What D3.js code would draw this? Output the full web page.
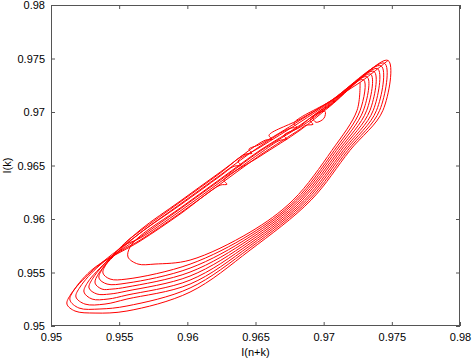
<!DOCTYPE html>
<meta charset="utf-8">
<style>
  body { margin: 0; background: #fff; }
  #chart svg { display: block; }
  .tick text { font-family: "Liberation Sans", Arial, sans-serif; font-size: 11px; fill: #000; }
  .tick line { stroke: #555; }
  .lbl { font-family: "Liberation Sans", Arial, sans-serif; font-size: 11px; fill: #000; }
</style>
<body>
<div id="chart"></div>
<script src="https://d3js.org/d3.v7.min.js"></script>
<script>
  // tick labels
  const xTicks = [0.95, 0.955, 0.96, 0.965, 0.97, 0.975, 0.98]
  const yTicks = [0.95, 0.955, 0.96, 0.965, 0.97, 0.975, 0.98]

  // trajectory, one array per turn of the orbit [I(n+k), I(k)]
  const loop0 = [[0.97267,0.97277],[0.97245,0.97016],[0.97061,0.96642],[0.96775,0.96176],[0.96460,0.95877],[0.96020,0.95616],
    [0.95763,0.95579],[0.95638,0.95579],[0.95565,0.95644],[0.95579,0.95737],[0.95653,0.95840],[0.95946,0.96101],
    [0.96240,0.96372],[0.96533,0.96642],[0.96826,0.96876],[0.97046,0.97081]]
  const loop1 = [[0.97292,0.97302],[0.97268,0.97016],[0.97078,0.96642],[0.96792,0.96176],[0.96460,0.95856],[0.96020,0.95578],
    [0.95557,0.95439],[0.95433,0.95439],[0.95381,0.95495],[0.95411,0.95588],[0.95557,0.95793],[0.95653,0.95886],
    [0.95946,0.96157],[0.96240,0.96428],[0.96423,0.96605],[0.96474,0.96614],[0.96452,0.96652],[0.96533,0.96698],
    [0.96826,0.96922],[0.97046,0.97099]]
  const loop2 = [[0.97318,0.97328],[0.97292,0.97016],[0.97094,0.96642],[0.96808,0.96176],[0.96460,0.95835],[0.96020,0.95541],
    [0.95557,0.95401],[0.95411,0.95392],[0.95352,0.95448],[0.95381,0.95541],[0.95528,0.95746],[0.95653,0.95821],
    [0.95946,0.96073],[0.96240,0.96344],[0.96533,0.96614],[0.96680,0.96736],[0.96731,0.96745],[0.96709,0.96782],
    [0.96826,0.96857],[0.97046,0.97062]]
  const loop3 = [[0.97344,0.97354],[0.97316,0.97016],[0.97111,0.96642],[0.96825,0.96176],[0.96460,0.95814],[0.96020,0.95504],
    [0.95557,0.95364],[0.95447,0.95345],[0.95374,0.95345],[0.95323,0.95401],[0.95352,0.95495],[0.95499,0.95700],
    [0.95653,0.95868],[0.95946,0.96129],[0.96240,0.96400],[0.96342,0.96493],[0.96394,0.96502],[0.96372,0.96540],
    [0.96533,0.96670],[0.96826,0.96904],[0.97046,0.97090]]
  const loop4 = [[0.97369,0.97379],[0.97340,0.97016],[0.97127,0.96642],[0.96841,0.96176],[0.96460,0.95793],[0.96020,0.95467],
    [0.95557,0.95327],[0.95433,0.95299],[0.95337,0.95299],[0.95279,0.95355],[0.95308,0.95448],[0.95455,0.95653],
    [0.95653,0.95802],[0.95946,0.96054],[0.96240,0.96325],[0.96533,0.96596],[0.96826,0.96838],[0.96870,0.96876],
    [0.96922,0.96885],[0.96900,0.96922],[0.97046,0.97062]]
  const loop5 = [[0.97395,0.97405],[0.97364,0.97016],[0.97144,0.96642],[0.96858,0.96176],[0.96460,0.95772],[0.96020,0.95429],
    [0.95557,0.95289],[0.95418,0.95252],[0.95301,0.95252],[0.95242,0.95317],[0.95271,0.95411],[0.95418,0.95616],
    [0.95653,0.95896],[0.95946,0.96166],[0.96240,0.96437],[0.96570,0.96736],[0.96621,0.96745],[0.96599,0.96782],
    [0.96826,0.96932],[0.97046,0.97099]]
  const loop6 = [[0.97421,0.97431],[0.97388,0.97016],[0.97160,0.96642],[0.96874,0.96176],[0.96460,0.95751],[0.96020,0.95392],
    [0.95557,0.95252],[0.95396,0.95205],[0.95249,0.95205],[0.95183,0.95271],[0.95213,0.95364],[0.95359,0.95569],
    [0.95653,0.95830],[0.95946,0.96092],[0.96240,0.96362],[0.96533,0.96633],[0.96826,0.96866],[0.96929,0.96969],
    [0.97010,0.97006],[0.97002,0.96941],[0.96944,0.96904],[0.96922,0.96950],[0.97046,0.97071]]
  const loop7 = [[0.97446,0.97456],[0.97411,0.97016],[0.97177,0.96642],[0.96891,0.96176],[0.96460,0.95730],[0.96020,0.95355],
    [0.95557,0.95187],[0.95359,0.95159],[0.95205,0.95168],[0.95139,0.95243],[0.95169,0.95336],[0.95315,0.95541],
    [0.95653,0.95793],[0.95946,0.96045],[0.96240,0.96316],[0.96291,0.96325],[0.96269,0.96362],[0.96533,0.96586],
    [0.96826,0.96829],[0.97046,0.97053]]
  const loop8 = [[0.97472,0.97482],[0.97435,0.97016],[0.97193,0.96642],[0.96907,0.96176],[0.96460,0.95709],[0.96020,0.95317],
    [0.95557,0.95140],[0.95323,0.95121],[0.95176,0.95140],[0.95117,0.95205],[0.95147,0.95299],[0.95293,0.95504],
    [0.95653,0.95868],[0.95946,0.96138],[0.96240,0.96409],[0.96533,0.96680],[0.96753,0.96848],[0.96804,0.96857],
    [0.96782,0.96894],[0.97046,0.97099],[0.97267,0.97277],[0.97472,0.97482]]

  const orbit = [loop0, loop1, loop2, loop3, loop4, loop5, loop6, loop7, loop8].flat()

  const W = 472, H = 359
  const margin = { top: 5, right: 12, bottom: 33, left: 51 }

  const svg = d3.select("#chart").append("svg")
    .attr("width", W)
    .attr("height", H)

  const x = d3.scaleLinear().domain([0.95, 0.98]).range([margin.left, W - margin.right])
  const y = d3.scaleLinear().domain([0.95, 0.98]).range([H - margin.bottom, margin.top])
  const fmt = d => String(+d.toFixed(3))

  // axes, ticks pointing inwards like matlab
  svg.append("g").attr("transform", `translate(0,${H - margin.bottom})`)
    .call(d3.axisBottom(x).tickValues(xTicks).tickFormat(fmt).tickSizeInner(-4).tickSizeOuter(0).tickPadding(7))
  svg.append("g").attr("transform", `translate(${margin.left},0)`)
    .call(d3.axisLeft(y).tickValues(yTicks).tickFormat(fmt).tickSizeInner(-4).tickSizeOuter(0).tickPadding(6))
  svg.append("g").attr("transform", `translate(0,${margin.top})`)
    .call(d3.axisTop(x).tickValues(xTicks).tickFormat("").tickSizeInner(-4).tickSizeOuter(0))
  svg.append("g").attr("transform", `translate(${W - margin.right},0)`)
    .call(d3.axisRight(y).tickValues(yTicks).tickFormat("").tickSizeInner(-4).tickSizeOuter(0))
  svg.selectAll(".domain").remove()

  svg.append("rect")
    .attr("x", margin.left + 0.5)
    .attr("y", margin.top + 0.5)
    .attr("width", W - margin.left - margin.right - 1)
    .attr("height", H - margin.top - margin.bottom - 1)
    .attr("fill", "none")
    .attr("stroke", "#555")

  const line = d3.line()
    .x(d => x(d[0]))
    .y(d => y(d[1]))
    .curve(d3.curveCatmullRom.alpha(0.5))

  svg.append("path")
    .datum(orbit)
    .attr("d", line)
    .attr("fill", "none")
    .attr("stroke", "#ff0000")
    .attr("stroke-width", 1)

  svg.append("text").attr("class", "lbl")
    .attr("x", (margin.left + W - margin.right) / 2)
    .attr("y", H - 3)
    .attr("text-anchor", "middle")
    .text("I(n+k)")

  svg.append("text").attr("class", "lbl")
    .attr("transform", `translate(11,${(margin.top + H - margin.bottom) / 2}) rotate(-90)`)
    .attr("text-anchor", "middle")
    .text("I(k)")
</script>
</body>
